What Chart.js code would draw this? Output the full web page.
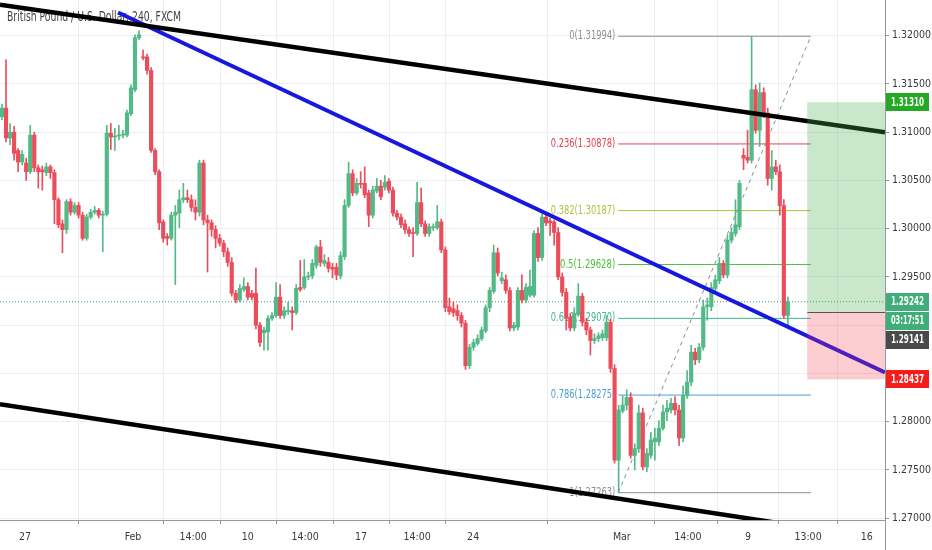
<!DOCTYPE html>
<html>
<head>
<meta charset="utf-8">
<script src="https://cdn.jsdelivr.net/npm/chart.js@4.4.1/dist/chart.umd.min.js"></script>
<style>
  html, body { margin: 0; padding: 0; background: #fff; }
  canvas { display: block; }
</style>
</head>
<body>
<canvas id="chart" width="932" height="550"></canvas>
<script>
const UP = "#53b987";
const DOWN = "#eb4d5c";

// GBPUSD 4h candles
const opens = [
  1.3116,1.3125,1.3094,1.3100,1.3081,1.3069,1.3068,1.3059,1.3097,1.3063,
  1.3061,1.3058,1.3064,1.3058,1.3030,1.3005,1.2999,1.3028,1.3017,1.3024,
  1.3014,1.2990,1.3012,1.3017,1.3019,1.3014,1.3015,1.3099,1.3095,1.3096,
  1.3097,1.3097,1.3119,1.3144,1.3198,1.3178,1.3178,1.3164,1.3081,1.3059,
  1.3007,1.2992,1.2990,1.3014,1.3016,1.3030,1.3032,1.3030,1.3022,1.3017,
  1.3068,1.3009,1.3006,1.2999,1.2990,1.2985,1.2976,1.2965,1.2933,1.2926,
  1.2937,1.2940,1.2933,1.2933,1.2900,1.2892,1.2893,1.2907,1.2910,1.2929,
  1.2910,1.2914,1.2915,1.2913,1.2939,1.2939,1.2950,1.2951,1.2962,1.2981,
  1.2964,1.2965,1.2960,1.2960,1.2951,1.2971,1.3024,1.3057,1.3037,1.3047,
  1.3047,1.3037,1.3014,1.3039,1.3044,1.3043,1.3049,1.3040,1.3016,1.3012,
  1.3005,1.2999,1.2996,1.2995,1.3027,1.3005,1.2995,1.3001,1.3001,1.3007,
  1.2978,1.2919,1.2917,1.2915,1.2910,1.2902,1.2858,1.2877,1.2881,1.2886,
  1.2894,1.2918,1.2935,1.2975,1.2946,1.2947,1.2936,1.2897,1.2898,1.2936,
  1.2926,1.2931,1.2931,1.2995,1.2970,1.3012,1.3008,1.3007,1.2996,1.2950,
  1.2934,1.2908,1.2897,1.2911,1.2930,1.2903,1.2895,1.2884,1.2886,1.2887,
  1.2887,1.2903,1.2855,1.2760,1.2811,1.2817,1.2825,1.2765,1.2772,1.2809,
  1.2753,1.2765,1.2779,1.2779,1.2793,1.2810,1.2812,1.2819,1.2812,1.2783,
  1.2827,1.2841,1.2872,1.2864,1.2877,1.2919,1.2919,1.2938,1.2946,1.2964,
  1.2952,1.2988,1.2995,1.3002,1.3076,1.3074,1.3071,1.3144,1.3102,1.3141,
  1.3120,1.3052,1.3064,1.3059,1.3024,1.2910
];
const highs = [
  1.3129,1.3175,1.3109,1.3106,1.3083,1.3081,1.3073,1.3107,1.3100,1.3066,
  1.3065,1.3068,1.3066,1.3061,1.3032,1.3009,1.3030,1.3031,1.3027,1.3027,
  1.3017,1.3015,1.3020,1.3023,1.3021,1.3018,1.3107,1.3109,1.3104,1.3107,
  1.3102,1.3123,1.3149,1.3201,1.3205,1.3185,1.3181,1.3167,1.3083,1.3061,
  1.3009,1.2995,1.3017,1.3024,1.3040,1.3047,1.3040,1.3035,1.3030,1.3071,
  1.3071,1.3014,1.3009,1.3003,1.2994,1.2988,1.2980,1.2970,1.2936,1.2942,
  1.2949,1.2944,1.2936,1.2959,1.2903,1.2898,1.2910,1.2913,1.2944,1.2942,
  1.2919,1.2924,1.2919,1.2942,1.2967,1.2968,1.2955,1.2968,1.2983,1.2988,
  1.2973,1.2970,1.2964,1.2964,1.2976,1.3030,1.3069,1.3061,1.3052,1.3059,
  1.3064,1.3040,1.3044,1.3052,1.3050,1.3055,1.3052,1.3043,1.3019,1.3015,
  1.3009,1.3002,1.3001,1.3048,1.3042,1.3008,1.3005,1.3005,1.3024,1.3010,
  1.2981,1.2928,1.2924,1.2921,1.2913,1.2905,1.2880,1.2885,1.2890,1.2898,
  1.2921,1.2939,1.2983,1.2980,1.2955,1.2952,1.2939,1.2903,1.2939,1.2952,
  1.2943,1.2957,1.2998,1.3001,1.3017,1.3016,1.3011,1.3009,1.3001,1.2954,
  1.2938,1.2912,1.2918,1.2943,1.2933,1.2907,1.2898,1.2891,1.2892,1.2895,
  1.2910,1.2906,1.2859,1.2817,1.2827,1.2833,1.2830,1.2777,1.2817,1.2814,
  1.2772,1.2789,1.2793,1.2801,1.2817,1.2822,1.2824,1.2826,1.2817,1.2837,
  1.2853,1.2879,1.2876,1.2881,1.2926,1.2928,1.2944,1.2952,1.2970,1.2967,
  1.2993,1.3001,1.3030,1.3050,1.3083,1.3102,1.31994,1.3149,1.3151,1.3146,
  1.3125,1.3081,1.3071,1.3066,1.3030,1.2929
];
const lows = [
  1.3113,1.3090,1.3087,1.3071,1.3059,1.3066,1.3050,1.3057,1.3059,1.3042,
  1.3040,1.3055,1.3052,1.3005,1.3001,1.2975,1.2995,1.3014,1.3015,1.3011,
  1.2988,1.2988,1.3010,1.3015,1.3011,1.2976,1.3013,1.3082,1.3081,1.3092,
  1.3094,1.3095,1.3117,1.3142,1.3196,1.3175,1.3160,1.3079,1.3056,1.2999,
  1.2986,1.2983,1.2988,1.2942,1.3001,1.3027,1.3027,1.3018,1.3009,1.3013,
  1.3004,1.2955,1.2992,1.2980,1.2982,1.2971,1.2961,1.2930,1.2923,1.2924,
  1.2935,1.2926,1.2926,1.2896,1.2878,1.2874,1.2874,1.2905,1.2908,1.2907,
  1.2907,1.2911,1.2895,1.2911,1.2935,1.2937,1.2947,1.2948,1.2959,1.2961,
  1.2961,1.2955,1.2949,1.2947,1.2948,1.2968,1.3022,1.3034,1.3035,1.3042,
  1.3032,1.3002,1.3011,1.3037,1.3030,1.3040,1.3037,1.3013,1.3009,1.3001,
  1.2995,1.2992,1.2971,1.2993,1.3002,1.2992,1.2992,1.2998,1.2999,1.2975,
  1.2914,1.2911,1.2909,1.2905,1.2898,1.2854,1.2855,1.2874,1.2879,1.2884,
  1.2892,1.2914,1.2933,1.2951,1.2943,1.2933,1.2894,1.2894,1.2895,1.2923,
  1.2923,1.2929,1.2929,1.2966,1.2967,1.3003,1.2993,1.2983,1.2947,1.2930,
  1.2895,1.2894,1.2894,1.2909,1.2899,1.2890,1.2869,1.2881,1.2883,1.2884,
  1.2884,1.2851,1.2757,1.27263,1.2809,1.2812,1.2762,1.2750,1.2768,1.2750,
  1.2748,1.2762,1.2760,1.2775,1.2791,1.2801,1.2809,1.2807,1.2775,1.2779,
  1.2824,1.2837,1.2859,1.2861,1.2874,1.2905,1.2915,1.2934,1.2943,1.2949,
  1.2949,1.2985,1.2992,1.2999,1.3061,1.3068,1.3068,1.3099,1.3085,1.3115,
  1.3045,1.3040,1.3056,1.3014,1.2907,1.2900
];
const closes = [
  1.3125,1.3094,1.3100,1.3078,1.3069,1.3077,1.3059,1.3097,1.3063,1.3059,
  1.3059,1.3064,1.3058,1.3030,1.3004,1.2999,1.3028,1.3017,1.3024,1.3014,
  1.2990,1.3012,1.3017,1.3019,1.3014,1.3015,1.3099,1.3095,1.3096,1.3097,
  1.3098,1.3120,1.3146,1.3198,1.3201,1.3177,1.3164,1.3081,1.3059,1.3006,
  1.2990,1.2990,1.3014,1.3017,1.3030,1.3032,1.3030,1.3022,1.3017,1.3068,
  1.3009,1.3006,1.2999,1.2990,1.2985,1.2976,1.2965,1.2933,1.2926,1.2938,
  1.2940,1.2929,1.2929,1.2900,1.2882,1.2895,1.2907,1.2910,1.2929,1.2910,
  1.2915,1.2915,1.2913,1.2938,1.2937,1.2950,1.2951,1.2964,1.2981,1.2965,
  1.2967,1.2959,1.2958,1.2952,1.2972,1.3024,1.3057,1.3037,1.3047,1.3046,
  1.3035,1.3014,1.3040,1.3044,1.3033,1.3048,1.3040,1.3016,1.3012,1.3004,
  1.2999,1.2995,1.2995,1.3027,1.3005,1.2995,1.3002,1.3002,1.3007,1.2978,
  1.2918,1.2914,1.2913,1.2910,1.2902,1.2858,1.2877,1.2882,1.2886,1.2895,
  1.2918,1.2936,1.2975,1.2954,1.2949,1.2936,1.2897,1.2900,1.2936,1.2926,
  1.2939,1.2940,1.2995,1.2970,1.3012,1.3006,1.3006,1.2996,1.2950,1.2934,
  1.2907,1.2897,1.2912,1.2930,1.2903,1.2895,1.2884,1.2886,1.2889,1.2891,
  1.2903,1.2855,1.2760,1.2812,1.2817,1.2825,1.2765,1.2772,1.2809,1.2753,
  1.2767,1.2781,1.2783,1.2793,1.2810,1.2814,1.2819,1.2812,1.2783,1.2827,
  1.2841,1.2872,1.2864,1.2877,1.2919,1.2921,1.2939,1.2947,1.2964,1.2952,
  1.2988,1.2996,1.3004,1.3047,1.3073,1.3071,1.3144,1.3102,1.3141,1.3120,
  1.3052,1.3064,1.3059,1.3024,1.2910,1.29242
];

const xTickPos = [5.7, 32.5, 47.4, 61.0, 75.2, 89.1, 103.0, 116.9, 153.8, 170.2, 185.1, 200.0, 214.6];
const xTickLabels = ["27", "Feb", "14:00", "10", "14:00", "17", "14:00", "24", "Mar", "14:00", "9", "13:00", "16"];
const yTicks = [1.27, 1.275, 1.28, 1.285, 1.29, 1.295, 1.30, 1.305, 1.31, 1.315, 1.32];
const hiddenYLabels = [1.285, 1.29]; // covered by the price boxes

// fibonacci retracement
const fibLevels = [0, 0.236, 0.382, 0.5, 0.618, 0.786, 1];
const fibPrices = [1.31994, 1.30878, 1.30187, 1.29628, 1.29070, 1.28275, 1.27263];
const fibColors = ["#8a8d96", "#dd4452", "#afc23e", "#4dbf3a", "#3db58f", "#4a9fd6", "#8a8d96"];
const fibFrom = 152.9, fibTo = 200.7;

// trend lines (candle index, price)
const upperLine = [{ x: -0.5, y: 1.3232 }, { x: 219.1, y: 1.3100 }];
const lowerLine = [{ x: -0.5, y: 1.2818 }, { x: 219.1, y: 1.2678 }];
const blueLine = [{ x: 28.8, y: 1.3224 }, { x: 219.1, y: 1.2851 }];

// long position tool
const posStart = 199.8;
const entryPrice = 1.29141, targetPrice = 1.31310, stopPrice = 1.28437;
const lastPrice = closes[closes.length - 1];
const countdown = "03:17:51";
const title = "British Pound / U.S. Dollar, 240, FXCM";

const X_MIN = -0.5, X_MAX = 219.1;
const Y_MIN = 1.2698, Y_MAX = 1.3237;

// pick the narrowest installed sans face
function hasFont(name) {
  const c = document.createElement("canvas").getContext("2d");
  const probe = "1.32000 Feb 14:00 British";
  c.font = "20px monospace";
  const w1 = c.measureText(probe).width;
  c.font = `20px '${name}', monospace`;
  return c.measureText(probe).width !== w1;
}
let FONT = "'Liberation Sans', Arial, sans-serif";
let TICK_SIZE = 10.5;
if (hasFont("Liberation Sans Narrow")) {
  FONT = "'Liberation Sans Narrow', sans-serif";
  TICK_SIZE = 11.5;
} else if (hasFont("DejaVu Sans Condensed")) {
  FONT = "'DejaVu Sans Condensed', sans-serif";
  TICK_SIZE = 10;
}

const isUp = (i) => closes[i] >= opens[i];

// text squeezed to the width it takes in the picture
function fitText(ctx, text, x, y, maxW, align) {
  const w = ctx.measureText(text).width;
  const k = Math.min(1, maxW / w);
  ctx.save();
  ctx.translate(x, y);
  ctx.scale(k, 1);
  ctx.textAlign = align;
  ctx.fillText(text, 0, 0);
  ctx.restore();
}

function lineSet(data, color, width, order, dash) {
  return {
    type: "line",
    data,
    borderColor: color,
    borderWidth: width,
    borderDash: dash || [],
    pointRadius: 0,
    fill: false,
    tension: 0,
    clip: 0,
    order,
  };
}

const fibSets = fibPrices.map((p, i) =>
  lineSet([{ x: fibFrom, y: p }, { x: fibTo, y: p }], fibColors[i], 1, 6)
);

const drawings = {
  id: "drawings",
  beforeDatasetsDraw(chart) {
    const { ctx, chartArea: a, scales: { x, y } } = chart;
    ctx.save();
    ctx.beginPath();
    ctx.rect(a.left, a.top, a.width, a.height);
    ctx.clip();
    ctx.textBaseline = "middle";
    ctx.font = `14.5px ${FONT}`;
    ctx.fillStyle = "#444";
    fitText(ctx, title, 7, 17, 174, "left");
    ctx.font = `12px ${FONT}`;
    const lx = x.getPixelForValue(fibFrom) - 3;
    fibLevels.forEach((lv, i) => {
      const txt = `${lv}(${fibPrices[i].toFixed(5)})`;
      ctx.fillStyle = fibColors[i];
      fitText(ctx, txt, lx, y.getPixelForValue(fibPrices[i]), txt.length * 4.6, "right");
    });
    ctx.restore();
  },
  afterDatasetsDraw(chart) {
    const { ctx, chartArea: a, scales: { x, y } } = chart;
    const x0 = x.getPixelForValue(posStart);
    const yT = y.getPixelForValue(targetPrice);
    const yE = y.getPixelForValue(entryPrice);
    const yS = y.getPixelForValue(stopPrice);
    ctx.save();
    ctx.beginPath();
    ctx.rect(a.left, a.top, a.width, a.height);
    ctx.clip();
    ctx.fillStyle = "rgba(76,175,80,0.3)";
    ctx.fillRect(x0, yT, a.right - x0, yE - yT);
    ctx.fillStyle = "rgba(242,54,69,0.25)";
    ctx.fillRect(x0, yE, a.right - x0, yS - yE);
    ctx.strokeStyle = "#555";
    ctx.lineWidth = 1;
    ctx.beginPath();
    ctx.moveTo(x0, Math.round(yE) + 0.5);
    ctx.lineTo(a.right, Math.round(yE) + 0.5);
    ctx.stroke();
    ctx.restore();
  },
  afterDraw(chart) {
    const { ctx, chartArea: a, scales: { y } } = chart;
    ctx.save();
    // price scale is cut off at the time axis
    ctx.fillStyle = "#fff";
    ctx.fillRect(a.right + 1, a.bottom + 1, chart.width - a.right, chart.height - a.bottom);
    ctx.strokeStyle = "#9598a1";
    ctx.lineWidth = 1;
    ctx.beginPath();
    ctx.moveTo(a.right + 0.5, a.bottom);
    ctx.lineTo(a.right + 0.5, chart.height);
    ctx.stroke();

    const lastY = y.getPixelForValue(lastPrice);
    const boxes = [
      { cy: y.getPixelForValue(targetPrice), text: targetPrice.toFixed(5), bg: "#25a925" },
      { cy: lastY, text: lastPrice.toFixed(5), bg: "#3fae78" },
      { cy: lastY + 19, text: countdown, bg: "#3fae78" },
      { cy: Math.max(y.getPixelForValue(entryPrice), lastY + 38), text: entryPrice.toFixed(5), bg: "#4a4a4a" },
      { cy: y.getPixelForValue(stopPrice), text: stopPrice.toFixed(5), bg: "#f71c1c" },
    ];
    ctx.font = `bold 12px ${FONT}`;
    ctx.textBaseline = "middle";
    boxes.forEach((b) => {
      ctx.fillStyle = b.bg;
      ctx.fillRect(a.right + 1, Math.round(b.cy - 9), 43, 18);
      ctx.fillStyle = "#fff";
      fitText(ctx, b.text, a.right + 6, b.cy + 0.5, 33, "left");
    });
    ctx.restore();
  },
};

new Chart(document.getElementById("chart"), {
  type: "bar",
  data: {
    datasets: [
      {
        label: "wicks",
        data: opens.map((o, i) => ({ x: i, y: [lows[i], highs[i]] })),
        backgroundColor: (c) => (isUp(c.dataIndex) ? UP : DOWN),
        barThickness: 1,
        grouped: false,
        order: 3,
      },
      {
        label: "bodies",
        data: opens.map((o, i) => ({ x: i, y: [o, closes[i]] })),
        backgroundColor: (c) => (isUp(c.dataIndex) ? UP : DOWN),
        barThickness: 3.5,
        minBarLength: 1,
        grouped: false,
        order: 2,
      },
      ...fibSets,
      lineSet([{ x: fibFrom, y: fibPrices[6] }, { x: fibTo, y: fibPrices[0] }], "#8a8d96", 1, 5, [4, 4]),
      lineSet([{ x: X_MIN, y: lastPrice }, { x: X_MAX, y: lastPrice }], "#3f9e70", 1, 4, [1, 2]),
      lineSet(upperLine, "#000000", 4.5, 0),
      lineSet(lowerLine, "#000000", 4.5, 0),
      lineSet(blueLine, "#1717e0", 4, 0),
    ],
  },
  options: {
    responsive: false,
    animation: false,
    devicePixelRatio: 1,
    layout: { padding: 0 },
    plugins: { legend: { display: false }, tooltip: { enabled: false } },
    scales: {
      x: {
        type: "linear",
        min: X_MIN,
        max: X_MAX,
        offset: false,
        grid: { color: "#eceef2", tickColor: "#9598a1", tickLength: 4 },
        border: { color: "#9598a1" },
        ticks: {
          autoSkip: false,
          maxRotation: 0,
          padding: 7,
          color: "#3a3a3a",
          font: { family: FONT, size: TICK_SIZE + 0.5 },
          callback: (v, i) => xTickLabels[i],
        },
        afterBuildTicks: (s) => { s.ticks = xTickPos.map((v) => ({ value: v })); },
        afterFit: (s) => { s.height = 30; s.paddingLeft = 0; s.paddingRight = 0; },
      },
      y: {
        type: "linear",
        position: "right",
        min: Y_MIN,
        max: Y_MAX,
        grid: { color: "#eceef2", tickColor: "#9598a1", tickLength: 4 },
        border: { color: "#9598a1" },
        ticks: {
          padding: 3,
          color: "#3a3a3a",
          font: { family: FONT, size: TICK_SIZE + 0.5 },
          callback: (v) => (hiddenYLabels.some((h) => Math.abs(h - v) < 1e-9) ? "" : v.toFixed(5)),
        },
        afterBuildTicks: (s) => { s.ticks = yTicks.map((v) => ({ value: v })); },
        afterFit: (s) => { s.width = 47; s.paddingTop = 0; s.paddingBottom = 0; },
      },
    },
  },
  plugins: [drawings],
});
</script>
</body>
</html>
